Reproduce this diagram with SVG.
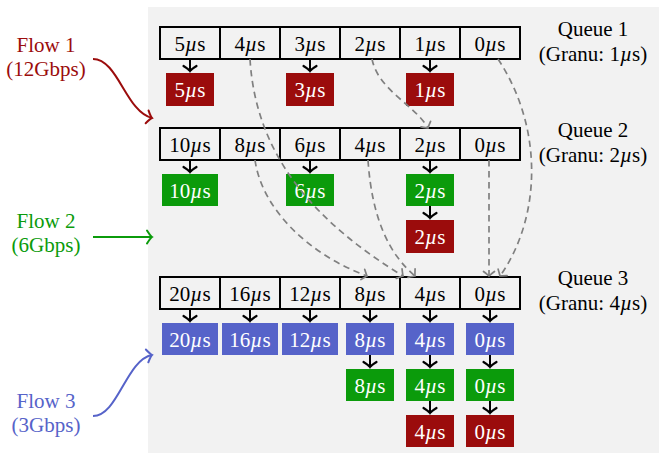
<svg xmlns="http://www.w3.org/2000/svg" width="659" height="453" viewBox="0 0 659 453">
<style>
text{font-family:"Liberation Serif","Times New Roman",serif;font-size:21px;text-anchor:middle}
.cell{fill:#f2f2f2;stroke:#000;stroke-width:2}
.red{fill:#9b0c0c}.grn{fill:#0b9b0b}.blu{fill:#5663c9}
.w{fill:#fff}
.ar{stroke:#000;stroke-width:2;fill:none;marker-end:url(#ah)}
.da{stroke:#808080;stroke-width:1.7;fill:none;stroke-dasharray:6.5 4.5;marker-end:url(#gh)}
</style>
<defs>
<marker id="ah" markerUnits="userSpaceOnUse" markerWidth="16" markerHeight="16" refX="0" refY="0" viewBox="-8 -8 16 16" orient="auto" overflow="visible">
<path d="M-5,-6.5 Q-1.5,-1 0,0 Q-1.5,1 -5,6.5" fill="none" stroke="#000" stroke-width="2.2" stroke-linecap="round"/>
</marker>
<marker id="gh" markerUnits="userSpaceOnUse" markerWidth="14" markerHeight="14" refX="0" refY="0" viewBox="-7 -7 14 14" orient="auto" overflow="visible">
<path d="M-4.5,-5.5 Q-1,-1 0,0 Q-1,1 -4.5,5.5" fill="none" stroke="#808080" stroke-width="1.7" stroke-linecap="round"/>
</marker>
<marker id="rh" markerUnits="userSpaceOnUse" markerWidth="16" markerHeight="16" viewBox="-8 -8 16 16" orient="auto" overflow="visible">
<path d="M-5,-6.5 Q-1.5,-1 0,0 Q-1.5,1 -5,6.5" fill="none" stroke="#9b0c0c" stroke-width="2" stroke-linecap="round"/>
</marker>
<marker id="gnh" markerUnits="userSpaceOnUse" markerWidth="16" markerHeight="16" viewBox="-8 -8 16 16" orient="auto" overflow="visible">
<path d="M-5,-6.5 Q-1.5,-1 0,0 Q-1.5,1 -5,6.5" fill="none" stroke="#0b9b0b" stroke-width="2" stroke-linecap="round"/>
</marker>
<marker id="bh" markerUnits="userSpaceOnUse" markerWidth="16" markerHeight="16" viewBox="-8 -8 16 16" orient="auto" overflow="visible">
<path d="M-5,-6.5 Q-1.5,-1 0,0 Q-1.5,1 -5,6.5" fill="none" stroke="#5663c9" stroke-width="2" stroke-linecap="round"/>
</marker>
</defs>
<rect x="148" y="7" width="511" height="446" fill="#f2f2f2"/>

<g id="queue1">
<rect class="cell" x="160" y="27" width="60" height="32"/><rect class="cell" x="220" y="27" width="60" height="32"/><rect class="cell" x="280" y="27" width="60" height="32"/><rect class="cell" x="340" y="27" width="60" height="32"/><rect class="cell" x="400" y="27" width="60" height="32"/><rect class="cell" x="460" y="27" width="60" height="32"/>
<text x="190" y="50.5">5<tspan font-style="italic">µ</tspan>s</text><text x="250" y="50.5">4<tspan font-style="italic">µ</tspan>s</text><text x="310" y="50.5">3<tspan font-style="italic">µ</tspan>s</text><text x="370" y="50.5">2<tspan font-style="italic">µ</tspan>s</text><text x="430" y="50.5">1<tspan font-style="italic">µ</tspan>s</text><text x="490" y="50.5">0<tspan font-style="italic">µ</tspan>s</text>
</g>
<g id="queue2">
<rect class="cell" x="160" y="128" width="60" height="32"/><rect class="cell" x="220" y="128" width="60" height="32"/><rect class="cell" x="280" y="128" width="60" height="32"/><rect class="cell" x="340" y="128" width="60" height="32"/><rect class="cell" x="400" y="128" width="60" height="32"/><rect class="cell" x="460" y="128" width="60" height="32"/>
<text x="190" y="151.5">10<tspan font-style="italic">µ</tspan>s</text><text x="250" y="151.5">8<tspan font-style="italic">µ</tspan>s</text><text x="310" y="151.5">6<tspan font-style="italic">µ</tspan>s</text><text x="370" y="151.5">4<tspan font-style="italic">µ</tspan>s</text><text x="430" y="151.5">2<tspan font-style="italic">µ</tspan>s</text><text x="490" y="151.5">0<tspan font-style="italic">µ</tspan>s</text>
</g>
<g id="queue3">
<rect class="cell" x="160" y="277" width="60" height="32"/><rect class="cell" x="220" y="277" width="60" height="32"/><rect class="cell" x="280" y="277" width="60" height="32"/><rect class="cell" x="340" y="277" width="60" height="32"/><rect class="cell" x="400" y="277" width="60" height="32"/><rect class="cell" x="460" y="277" width="60" height="32"/>
<text x="190" y="300.5">20<tspan font-style="italic">µ</tspan>s</text><text x="250" y="300.5">16<tspan font-style="italic">µ</tspan>s</text><text x="310" y="300.5">12<tspan font-style="italic">µ</tspan>s</text><text x="370" y="300.5">8<tspan font-style="italic">µ</tspan>s</text><text x="430" y="300.5">4<tspan font-style="italic">µ</tspan>s</text><text x="490" y="300.5">0<tspan font-style="italic">µ</tspan>s</text>
</g>

<g id="q1-pkts">
<g id="q1-p5"><rect class="red" x="166" y="73" width="48" height="33"/><text class="w" x="190" y="97">5<tspan font-style="italic">µ</tspan>s</text></g>
<g id="q1-p3"><rect class="red" x="286" y="73" width="48" height="33"/><text class="w" x="310" y="97">3<tspan font-style="italic">µ</tspan>s</text></g>
<g id="q1-p1"><rect class="red" x="406" y="73" width="48" height="33"/><text class="w" x="430" y="97">1<tspan font-style="italic">µ</tspan>s</text></g>
</g>
<g id="q2-pkts">
<g id="q2-p10"><rect class="grn" x="162" y="174" width="56" height="32"/><text class="w" x="190" y="197.5">10<tspan font-style="italic">µ</tspan>s</text></g>
<g id="q2-p6"><rect class="grn" x="286" y="174" width="48" height="32"/><text class="w" x="310" y="197.5">6<tspan font-style="italic">µ</tspan>s</text></g>
<g id="q2-p2g"><rect class="grn" x="406" y="174" width="48" height="32"/><text class="w" x="430" y="197.5">2<tspan font-style="italic">µ</tspan>s</text></g>
<g id="q2-p2r"><rect class="red" x="406" y="220" width="48" height="33"/><text class="w" x="430" y="244">2<tspan font-style="italic">µ</tspan>s</text></g>
</g>
<g id="q3-pkts">
<g id="q3-b20"><rect class="blu" x="162" y="323" width="56" height="32"/><text class="w" x="190" y="346.5">20<tspan font-style="italic">µ</tspan>s</text></g>
<g id="q3-b16"><rect class="blu" x="222" y="323" width="56" height="32"/><text class="w" x="250" y="346.5">16<tspan font-style="italic">µ</tspan>s</text></g>
<g id="q3-b12"><rect class="blu" x="282" y="323" width="56" height="32"/><text class="w" x="310" y="346.5">12<tspan font-style="italic">µ</tspan>s</text></g>
<g id="q3-b8"><rect class="blu" x="346" y="323" width="48" height="32"/><text class="w" x="370" y="346.5">8<tspan font-style="italic">µ</tspan>s</text></g>
<g id="q3-b4"><rect class="blu" x="406" y="323" width="48" height="32"/><text class="w" x="430" y="346.5">4<tspan font-style="italic">µ</tspan>s</text></g>
<g id="q3-b0"><rect class="blu" x="466" y="323" width="48" height="32"/><text class="w" x="490" y="346.5">0<tspan font-style="italic">µ</tspan>s</text></g>
<g id="q3-g8"><rect class="grn" x="346" y="369" width="48" height="32"/><text class="w" x="370" y="392.5">8<tspan font-style="italic">µ</tspan>s</text></g>
<g id="q3-g4"><rect class="grn" x="406" y="369" width="48" height="32"/><text class="w" x="430" y="392.5">4<tspan font-style="italic">µ</tspan>s</text></g>
<g id="q3-g0"><rect class="grn" x="466" y="369" width="48" height="32"/><text class="w" x="490" y="392.5">0<tspan font-style="italic">µ</tspan>s</text></g>
<g id="q3-r4"><rect class="red" x="406" y="415" width="48" height="32"/><text class="w" x="430" y="438.5">4<tspan font-style="italic">µ</tspan>s</text></g>
<g id="q3-r0"><rect class="red" x="466" y="415" width="48" height="32"/><text class="w" x="490" y="438.5">0<tspan font-style="italic">µ</tspan>s</text></g>
</g>

<g id="labels">
<g id="q1-label"><text x="593" y="36">Queue 1</text><text x="593" y="61">(Granu: 1<tspan font-style="italic">µ</tspan>s)</text></g>
<g id="q2-label"><text x="593" y="137">Queue 2</text><text x="593" y="162">(Granu: 2<tspan font-style="italic">µ</tspan>s)</text></g>
<g id="q3-label"><text x="593" y="285">Queue 3</text><text x="593" y="310">(Granu: 4<tspan font-style="italic">µ</tspan>s)</text></g>
<g id="flow1"><text x="46" y="52" fill="#9b0c0c">Flow 1</text><text x="46" y="76" fill="#9b0c0c">(12Gbps)</text></g>
<g id="flow2"><text x="46" y="228" fill="#0b9b0b">Flow 2</text><text x="46" y="252" fill="#0b9b0b">(6Gbps)</text></g>
<g id="flow3"><text x="46" y="408" fill="#5663c9">Flow 3</text><text x="46" y="432" fill="#5663c9">(3Gbps)</text></g>
</g>

<g id="connectors">
<path d="M93,59 C118,59 126,112 152,118" stroke="#9b0c0c" stroke-width="2" fill="none" marker-end="url(#rh)"/>
<path d="M93,237 L152,237" stroke="#0b9b0b" stroke-width="2" fill="none" marker-end="url(#gnh)"/>
<path d="M93,416 C118,416 126,360 152,355" stroke="#5663c9" stroke-width="2" fill="none" marker-end="url(#bh)"/>

<path class="ar" d="M190,59 V71"/><path class="ar" d="M310,59 V71"/><path class="ar" d="M430,59 V71"/>
<path class="ar" d="M190,160 V172"/><path class="ar" d="M310,160 V172"/><path class="ar" d="M430,160 V172"/><path class="ar" d="M430,206 V218"/>
<path class="ar" d="M190,309 V321"/><path class="ar" d="M250,309 V321"/><path class="ar" d="M310,309 V321"/><path class="ar" d="M370,309 V321"/><path class="ar" d="M430,309 V321"/><path class="ar" d="M490,309 V321"/>
<path class="ar" d="M370,355 V367"/><path class="ar" d="M430,355 V367"/><path class="ar" d="M490,355 V367"/>
<path class="ar" d="M430,401 V413"/><path class="ar" d="M490,401 V413"/>

<path class="da" d="M250,59 C256,160 320,225 403,276"/>
<path class="da" d="M255,160 C262,210 310,255 367,276"/>
<path class="da" d="M368,160 C372,220 390,255 415,276"/>
<path class="da" d="M489,160 L489,276"/>
<path class="da" d="M498,59 C545,130 540,220 500,276"/>
<path class="da" d="M372,59 C378,90 415,105 428,128"/>
</g>
</svg>
